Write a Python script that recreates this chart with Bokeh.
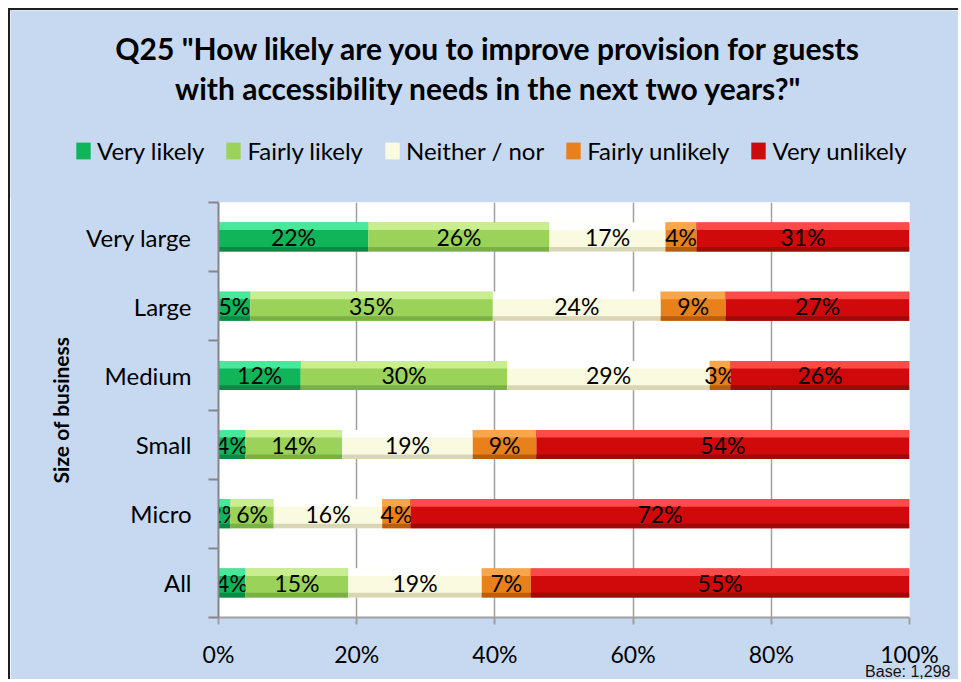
from bokeh.plotting import figure
from bokeh.layouts import column
from bokeh.models import Range1d, FixedTicker, Legend, LegendItem, ColumnDataSource, Title, Label
from bokeh.core.properties import value
from bokeh.embed import file_html
from bokeh.resources import INLINE

# ---------------- data ----------------
categories = ["All", "Micro", "Small", "Medium", "Large", "Very large"]  # bottom -> top
series = ["Very likely", "Fairly likely", "Neither / nor", "Fairly unlikely", "Very unlikely"]
very_likely = [3.9, 1.7, 3.9, 11.9, 4.6, 21.7]
fairly_likely = [14.9, 6.3, 14.0, 29.9, 35.1, 26.2]
neither_nor = [19.3, 15.7, 18.9, 29.3, 24.3, 16.8]
fairly_unlikely = [7.1, 4.1, 9.2, 3.0, 9.4, 4.5]
very_unlikely = [54.8, 72.2, 54.0, 25.9, 26.6, 30.8]
x_ticks = [0, 20, 40, 60, 80, 100]
x_tick_labels = ["0%", "20%", "40%", "60%", "80%", "100%"]
title_lines = ['Q25 "How likely are you to improve provision for guests',
               'with accessibility needs in the next two years?"']
y_title = "Size of business"
base_note = "Base: 1,298"

# ---------------- styles ----------------
body_colors = ["#10B55A", "#9BD35A", "#FAFAE1", "#E8801C", "#D00A0A"]
top_colors = ["#48E89A", "#C8EE90", "#FFFFFF", "#F9A54A", "#FF4A4A"]
bot_colors = ["#0B8A46", "#7AB044", "#D8D6B4", "#B85E0E", "#9C0A0A"]
BG = "#C6D9F1"
FONT = "Lato"
EDGE = "2px solid #1e1e1e"

W = 950
HEAD_H = 189          # header canvas: page y 10 .. 199
OVERLAP = 5           # main canvas is pulled up over the header's lower edge
MAIN_H = 482 + OVERLAP
FL, FR = 208, 899     # frame left / right inside the canvas
FT, FB = 5 + OVERLAP, 420 + OVERLAP

# ---------------- header (title + legend) ----------------
head = figure(width=W, height=HEAD_H, x_range=Range1d(0, W), y_range=Range1d(HEAD_H, 0),
              output_backend="svg", toolbar_location=None, x_axis_type=None, y_axis_type=None,
              min_border=0)
head.frame_align = False
head.styles = {"border-left": EDGE, "border-top": EDGE}
head.background_fill_color = BG
head.border_fill_color = BG
head.outline_line_color = None

for line, cy in zip(title_lines, [37, 77]):
    head.add_layout(Label(x=478, y=cy, text=line, text_align="center", text_baseline="middle",
                          text_font=FONT, text_font_style="bold", text_font_size="30px",
                          text_color="black"))

# legend proxies: one bar each, placed outside the visible header range
dummy = [head.hbar(y=[-1000], left=[0], right=[1], height=1, fill_color=c, line_color=None)
         for c in body_colors]
legend = Legend(items=[LegendItem(label=n, renderers=[r]) for n, r in zip(series, dummy)],
                orientation="horizontal", location=(64, 34),
                background_fill_alpha=0, border_line_color=None,
                padding=0, margin=0, spacing=20, glyph_width=18, glyph_height=21,
                label_standoff=5, label_height=21, label_width=0, label_text_font=FONT,
                label_text_font_size="24px", label_text_color="black",
                label_text_baseline="middle")
head.add_layout(legend)

# ---------------- main chart ----------------
p = figure(width=W, height=MAIN_H, x_range=Range1d(0, 100), y_range=Range1d(0, len(categories)),
           output_backend="svg", toolbar_location=None,
           min_border_left=FL, min_border_right=W - FR, min_border_top=FT,
           min_border_bottom=MAIN_H - FB)
p.frame_align = False
p.styles = {"border-left": EDGE, "margin-top": f"-{OVERLAP}px", "position": "relative", "z-index": "1"}
p.background_fill_color = "white"
p.border_fill_color = BG
p.outline_line_color = None

BAR_H = 0.42
values = [very_likely, fairly_likely, neither_nor, fairly_unlikely, very_unlikely]
ys = [i + 0.5 for i in range(len(categories))]
cum = [0.0] * len(categories)
for k, (name, vals) in enumerate(zip(series, values)):
    left = cum[:]
    right = [l + v for l, v in zip(left, vals)]
    cum = right
    src = ColumnDataSource(dict(
        y=ys,
        y_top=[y + BAR_H / 2 - BAR_H * 0.13 for y in ys],
        y_bot=[y - BAR_H / 2 + BAR_H * 0.08 for y in ys],
        left=left, right=right,
        mid=[(l + r) / 2 for l, r in zip(left, right)],
        label=[f"{round(v)}%" for v in vals],
    ))
    p.hbar(y="y", left="left", right="right", height=BAR_H, source=src,
           fill_color=body_colors[k], line_color=None)
    p.hbar(y="y_top", left="left", right="right", height=BAR_H * 0.26, source=src,
           fill_color=top_colors[k], line_color=None)
    p.hbar(y="y_bot", left="left", right="right", height=BAR_H * 0.16, source=src,
           fill_color=bot_colors[k], line_color=None)
    p.text(x="mid", y="y", text="label", source=src, text_font=value(FONT),
           text_font_size="23px", text_align="center", text_baseline="middle", text_color="black")

p.xaxis.ticker = FixedTicker(ticks=x_ticks)
p.xaxis.major_label_overrides = {t: l for t, l in zip(x_ticks, x_tick_labels)}
p.xaxis.axis_line_color = "#A0A0A0"
p.xaxis.axis_line_width = 2
p.xaxis.major_tick_line_color = "#A0A0A0"
p.xaxis.major_tick_line_width = 2
p.xaxis.major_tick_out = 7
p.xaxis.major_tick_in = 0
p.xaxis.minor_tick_line_color = None
p.xaxis.major_label_text_font = FONT
p.xaxis.major_label_text_font_size = "23px"
p.xaxis.major_label_text_color = "black"
p.xaxis.major_label_standoff = 15

p.yaxis.ticker = FixedTicker(ticks=ys, minor_ticks=list(range(len(categories) + 1)))
p.yaxis.major_label_overrides = {y: c for y, c in zip(ys, categories)}
p.yaxis.axis_line_color = "#868686"
p.yaxis.axis_line_width = 2
p.yaxis.major_tick_line_color = None
p.yaxis.major_tick_out = 0
p.yaxis.major_tick_in = 0
p.yaxis.minor_tick_line_color = "#868686"
p.yaxis.minor_tick_line_width = 2
p.yaxis.minor_tick_out = 10
p.yaxis.minor_tick_in = 0
p.yaxis.major_label_text_font = FONT
p.yaxis.major_label_text_font_size = "24px"
p.yaxis.major_label_text_color = "black"
p.yaxis.major_label_standoff = 17
p.yaxis.axis_label = y_title
p.yaxis.axis_label_text_font = FONT
p.yaxis.axis_label_text_font_style = "bold"
p.yaxis.axis_label_text_font_size = "21px"
p.yaxis.axis_label_text_color = "black"
p.yaxis.axis_label_standoff = 10

p.xgrid.ticker = FixedTicker(ticks=x_ticks)
p.xgrid.grid_line_color = "#A0A0A0"
p.xgrid.grid_line_width = 1.5
p.ygrid.grid_line_color = None

p.add_layout(Title(text=base_note, align="right", offset=-41, standoff=-16, vertical_align="top",
                   text_font="Liberation Sans", text_font_style="normal", text_font_size="16px",
                   text_color="#111111"), "below")

layout = column(head, p, spacing=0)
layout.styles = {"margin-left": "8px", "margin-top": "8px"}

open("out.html", "w").write(file_html(layout, INLINE))
